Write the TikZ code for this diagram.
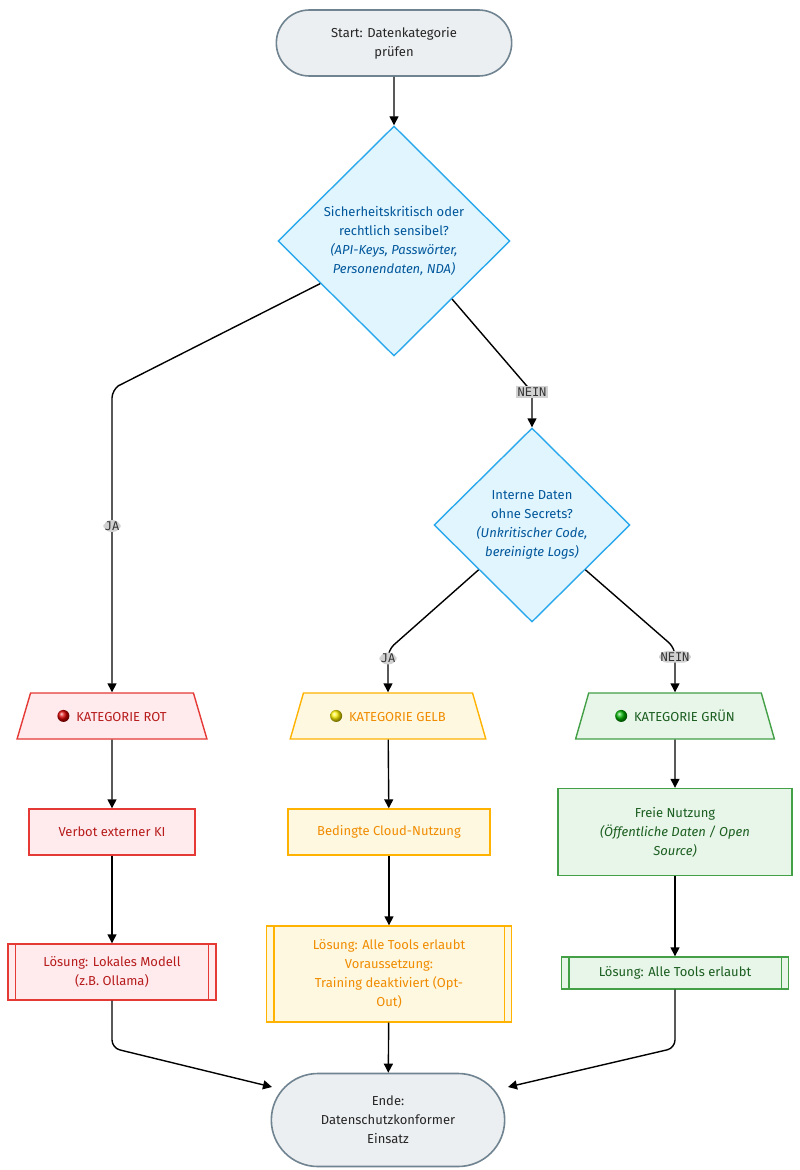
\documentclass[tikz,border=0pt]{standalone}
\usepackage{fontspec}
\setmainfont{Fira Sans}
\newfontfamily\lblfont{DejaVu Sans Mono}
\usetikzlibrary{shapes.geometric,shapes.misc,arrows.meta}
\definecolor{gfill}{HTML}{ECEFF1}\definecolor{gline}{HTML}{6F8390}
\definecolor{bfill}{HTML}{E1F5FE}\definecolor{bline}{HTML}{29A8EC}\definecolor{btext}{HTML}{01579B}
\definecolor{rfill}{HTML}{FFEBEE}\definecolor{rline}{HTML}{E53935}\definecolor{rtext}{HTML}{B71C1C}
\definecolor{yfill}{HTML}{FFF8E1}\definecolor{yline}{HTML}{FFB300}\definecolor{ytext}{HTML}{F08C00}
\definecolor{nfill}{HTML}{E8F5E9}\definecolor{nline}{HTML}{43A047}\definecolor{ntext}{HTML}{1B5E20}
\begin{document}
\begin{tikzpicture}[x=1pt,y=-1pt,font=\fontsize{13}{19}\selectfont,
  term/.style={rounded rectangle,draw=gline,fill=gfill,line width=1.6pt,align=center,text=black!85},
  dec/.style={diamond,draw=bline,fill=bfill,line width=1.4pt,align=center,text=btext,inner sep=0pt,aspect=1},
  trap/.style={trapezium,trapezium stretches=true,trapezium left angle=63,trapezium right angle=63,line width=1.4pt,minimum height=46pt},
  box/.style={rectangle,line width=1.4pt,align=center,inner sep=0pt},
  arr/.style={-{Triangle[length=9pt,width=9pt]},line width=1.4pt,black},
  lbl/.style={fill=black!18,inner sep=1.5pt,font=\lblfont\fontsize{12}{14}\selectfont,text=black!80}]
\useasboundingbox (0,0) rectangle (800,1170);
\node[term,minimum width=242pt,minimum height=66pt] (start) at (394,43) {Start: Datenkategorie\\prüfen};
\node[dec,minimum width=232pt,minimum height=230pt] (d1) at (394,241) {Sicherheitskritisch oder\\rechtlich sensibel?\\\textit{(API-Keys, Passwörter,}\\\textit{Personendaten, NDA)}};
\node[dec,minimum width=196pt,minimum height=194pt] (d2) at (532,525) {Interne Daten\\ohne Secrets?\\\textit{(Unkritischer Code,}\\\textit{bereinigte Logs)}};
\node[trap,draw=rline,fill=rfill,text=rtext,minimum width=190pt] (rot) at (112,716) {\tikz\shade[ball color=red!85!black] (0,0) circle (6pt);\ \ KATEGORIE ROT};
\node[trap,draw=yline,fill=yfill,text=ytext,minimum width=196pt] (gelb) at (388,716) {\tikz\shade[ball color=yellow!90!orange] (0,0) circle (6pt);\ \ KATEGORIE GELB};
\node[trap,draw=nline,fill=nfill,text=ntext,minimum width=199pt] (gruen) at (675,716) {\tikz\shade[ball color=green!70!black] (0,0) circle (6pt);\ \ KATEGORIE GRÜN};
\node[box,draw=rline,fill=rfill,text=rtext,minimum width=166pt,minimum height=46pt] (verbot) at (112,832) {Verbot externer KI};
\node[box,draw=yline,fill=yfill,text=ytext,minimum width=202pt,minimum height=46pt] (bed) at (389,832) {Bedingte Cloud-Nutzung};
\node[box,draw=nline,fill=nfill,text=ntext,minimum width=234pt,minimum height=87pt] (frei) at (675,832) {Freie Nutzung\\\textit{(Öffentliche Daten / Open}\\\textit{Source)}};
\node[box,draw=rline,fill=rfill,text=rtext,minimum width=208pt,minimum height=56pt] (lr) at (112,972) {Lösung: Lokales Modell\\(z.B. Ollama)};
\node[box,draw=yline,fill=yfill,text=ytext,minimum width=245pt,minimum height=96pt] (ly) at (389,974) {Lösung: Alle Tools erlaubt\\Voraussetzung:\\Training deaktiviert (Opt-\\Out)};
\node[box,draw=nline,fill=nfill,text=ntext,minimum width=227pt,minimum height=32pt] (lg) at (675,973) {Lösung: Alle Tools erlaubt};
\foreach \n/\c in {lr/rline,ly/yline,lg/nline}{
  \draw[\c,line width=1.4pt] ([xshift=8pt]\n.north west)--([xshift=8pt]\n.south west);
  \draw[\c,line width=1.4pt] ([xshift=-8pt]\n.north east)--([xshift=-8pt]\n.south east);}
\node[term,minimum width=240pt,minimum height=93pt] (ende) at (388,1120) {Ende:\\Datenschutzkonformer\\Einsatz};
\coordinate (c1) at (112,390);
\coordinate (c2) at (532,392);
\coordinate (c3) at (388,650);
\coordinate (c4) at (675,648);
\coordinate (c5) at (112,1048);
\coordinate (c6) at (675,1048);
\draw[arr] (start) -- (d1);
\draw[arr] (d1.210) -- (118,386) [rounded corners=8pt] -- (c1) -- node[lbl,pos=0.45]{JA} (rot.north);
\draw[arr] (d1.-45) -- (c2) node[lbl]{NEIN} -- (d2.north);
\draw[arr,rounded corners=8pt] (d2.220) -- (c3) -- node[lbl,pos=0.2]{JA} (gelb.north);
\draw[arr,rounded corners=8pt] (d2.-40) -- (c4) -- node[lbl,pos=0.2]{NEIN} (gruen.north);
\draw[arr] (rot) -- (verbot);
\draw[arr] (gelb) -- (bed);
\draw[arr] (gruen) -- (frei);
\draw[arr] (verbot) -- (lr);
\draw[arr] (bed) -- (ly);
\draw[arr] (frei) -- (lg);
\draw[arr,rounded corners=8pt] (lr.south) -- (c5) -- (272,1087);
\draw[arr] (ly) -- (ende);
\draw[arr,rounded corners=8pt] (lg.south) -- (c6) -- (508,1087);
\end{tikzpicture}
\end{document}
